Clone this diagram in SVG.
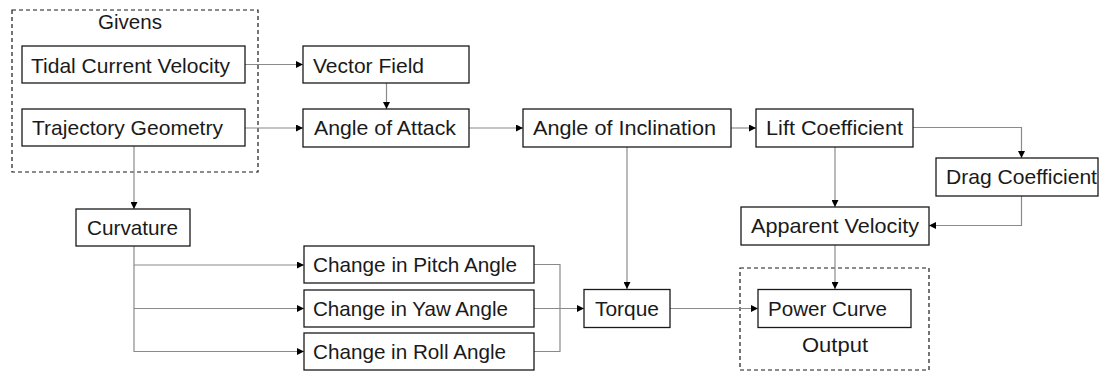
<svg xmlns="http://www.w3.org/2000/svg" width="1099" height="372" viewBox="0 0 1099 372">
<style>
.box{fill:#fff;stroke:#1a1a1a;stroke-width:1.3}
.grp{fill:none;stroke:#1a1a1a;stroke-width:1.2;stroke-dasharray:4 3}
.t{font-family:"Liberation Sans",Arial,sans-serif;font-size:21px;fill:#1a1a1a}
.c{fill:none;stroke:#8a8a8a;stroke-width:1.2}
</style>
<defs>
<marker id="ah" viewBox="0 0 10 10" refX="10" refY="5" markerWidth="7" markerHeight="7" markerUnits="userSpaceOnUse" orient="auto">
<path d="M0,0 L10,5 L0,10 z" fill="#000"/>
</marker>
</defs>
<rect width="1099" height="372" fill="#fff"/>
<g id="givens">
<rect class="grp" x="12" y="10" width="246" height="162"/>
<text class="t" x="98" y="29" textLength="64" lengthAdjust="spacingAndGlyphs">Givens</text>
</g>
<g id="output">
<rect class="grp" x="740" y="268" width="189" height="102"/>
<text class="t" x="802" y="352" textLength="66" lengthAdjust="spacingAndGlyphs">Output</text>
</g>
<g id="connectors">
<path class="c" d="M245,64.5 H303" marker-end="url(#ah)"/>
<path class="c" d="M245,128 H303" marker-end="url(#ah)"/>
<path class="c" d="M386.5,83 V109" marker-end="url(#ah)"/>
<path class="c" d="M469,128 H523" marker-end="url(#ah)"/>
<path class="c" d="M731,128 H756" marker-end="url(#ah)"/>
<path class="c" d="M913,127.5 H1021.5 V158" marker-end="url(#ah)"/>
<path class="c" d="M835,147 V207" marker-end="url(#ah)"/>
<path class="c" d="M1021.5,196 V225.5 H929" marker-end="url(#ah)"/>
<path class="c" d="M134,146 V209" marker-end="url(#ah)"/>
<path class="c" d="M134,246 V351.5 H304" marker-end="url(#ah)"/>
<path class="c" d="M134,265 H304" marker-end="url(#ah)"/>
<path class="c" d="M134,308.5 H304" marker-end="url(#ah)"/>
<path class="c" d="M534,264.5 H560 V351.5 H534"/>
<path class="c" d="M534,308.5 H584" marker-end="url(#ah)"/>
<path class="c" d="M627,147 V289" marker-end="url(#ah)"/>
<path class="c" d="M670,308.5 H758" marker-end="url(#ah)"/>
<path class="c" d="M835,245 V289" marker-end="url(#ah)"/>
</g>
<g id="tidal">
<rect class="box" x="22" y="46" width="223" height="37"/>
<text class="t" x="31" y="73" textLength="199" lengthAdjust="spacingAndGlyphs">Tidal Current Velocity</text>
</g>
<g id="trajectory">
<rect class="box" x="22" y="109" width="223" height="37"/>
<text class="t" x="32" y="135" textLength="191" lengthAdjust="spacingAndGlyphs">Trajectory Geometry</text>
</g>
<g id="vector">
<rect class="box" x="303" y="46" width="166" height="37"/>
<text class="t" x="313" y="72.5" textLength="111" lengthAdjust="spacingAndGlyphs">Vector Field</text>
</g>
<g id="attack">
<rect class="box" x="303" y="109" width="166" height="38"/>
<text class="t" x="314" y="135" textLength="142" lengthAdjust="spacingAndGlyphs">Angle of Attack</text>
</g>
<g id="inclination">
<rect class="box" x="523" y="109" width="208" height="38"/>
<text class="t" x="533" y="135" textLength="183" lengthAdjust="spacingAndGlyphs">Angle of Inclination</text>
</g>
<g id="lift">
<rect class="box" x="756" y="109" width="157" height="38"/>
<text class="t" x="766" y="135" textLength="137" lengthAdjust="spacingAndGlyphs">Lift Coefficient</text>
</g>
<g id="drag">
<rect class="box" x="936" y="158" width="162" height="38"/>
<text class="t" x="946" y="184" textLength="151" lengthAdjust="spacingAndGlyphs">Drag Coefficient</text>
</g>
<g id="apparent">
<rect class="box" x="741" y="207" width="188" height="38"/>
<text class="t" x="751" y="233" textLength="168" lengthAdjust="spacingAndGlyphs">Apparent Velocity</text>
</g>
<g id="curvature">
<rect class="box" x="76" y="209" width="114" height="37"/>
<text class="t" x="87" y="235" textLength="91" lengthAdjust="spacingAndGlyphs">Curvature</text>
</g>
<g id="pitch">
<rect class="box" x="304" y="246" width="230" height="37"/>
<text class="t" x="313" y="272" textLength="204" lengthAdjust="spacingAndGlyphs">Change in Pitch Angle</text>
</g>
<g id="yaw">
<rect class="box" x="304" y="290" width="230" height="37"/>
<text class="t" x="313" y="316" textLength="195" lengthAdjust="spacingAndGlyphs">Change in Yaw Angle</text>
</g>
<g id="roll">
<rect class="box" x="304" y="333" width="230" height="37"/>
<text class="t" x="313" y="359" textLength="193" lengthAdjust="spacingAndGlyphs">Change in Roll Angle</text>
</g>
<g id="torque">
<rect class="box" x="584" y="289.5" width="86" height="38"/>
<text class="t" x="595" y="316" textLength="64" lengthAdjust="spacingAndGlyphs">Torque</text>
</g>
<g id="power">
<rect class="box" x="758" y="289.5" width="153" height="38"/>
<text class="t" x="768" y="316" textLength="119" lengthAdjust="spacingAndGlyphs">Power Curve</text>
</g>
</svg>
